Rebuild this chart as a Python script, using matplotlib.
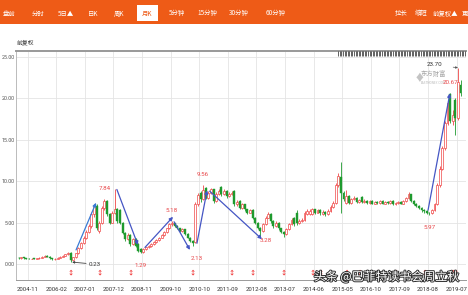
import matplotlib
matplotlib.use("Agg")
import matplotlib.pyplot as plt
import matplotlib.patheffects as pe
from matplotlib.patches import Rectangle
import numpy as np

plt.rcParams['font.family'] = ['Noto Sans CJK SC', 'DejaVu Sans']

# ---------------- data (monthly candles, 前复权) ----------------
opens = [0.75, 0.70, 0.80, 0.70, 0.65, 0.60, 0.66, 0.62, 0.70, 0.76,
         0.86, 1.00, 0.88, 0.70, 0.56, 0.62, 0.76, 0.86, 1.00, 1.16,
         1.36, 0.50, 0.82, 1.30, 1.90, 2.50, 3.20, 3.90, 4.60, 6.00,
         7.00, 4.00, 5.00, 6.80, 7.60, 6.00, 5.00, 6.20, 6.60, 6.50,
         5.00, 3.80, 3.00, 3.50, 2.40, 3.00, 2.40, 1.80, 1.40, 1.80,
         2.00, 2.20, 2.40, 2.65, 2.90, 3.20, 3.50, 3.90, 4.30, 4.80,
         4.95, 4.60, 4.30, 4.00, 4.20, 3.60, 3.20, 2.80, 2.60, 7.20,
         8.60, 7.80, 9.20, 8.00, 8.60, 9.00, 7.60, 8.50, 9.30, 8.40,
         8.80, 8.20, 8.50, 8.80, 7.20, 7.60, 6.80, 7.20, 6.60, 6.20,
         6.50, 5.60, 5.00, 4.40, 4.00, 4.80, 5.60, 6.00, 5.20, 4.60,
         5.00, 4.30, 3.90, 3.60, 4.20, 4.80, 5.60, 6.20, 4.90, 5.20,
         5.30, 6.00, 6.00, 6.00, 6.60, 6.20, 6.50, 6.00, 6.30, 6.00,
         6.40, 6.90, 7.40, 9.50, 10.50, 8.60, 7.40, 8.20, 7.40, 7.80,
         8.00, 7.50, 8.10, 7.50, 7.60, 7.40, 7.60, 7.30, 7.50, 7.40,
         7.60, 7.30, 7.50, 7.40, 7.60, 7.20, 7.40, 7.50, 7.30, 7.60,
         8.00, 8.40, 7.60, 7.30, 7.00, 6.80, 6.50, 6.40, 6.20, 6.10,
         6.50, 7.20, 9.50, 11.50, 14.00, 17.00, 20.50, 17.30, 19.80, 17.60,
         21.60]
closes = [0.70, 0.80, 0.70, 0.65, 0.60, 0.66, 0.62, 0.70, 0.76, 0.86,
          1.00, 0.88, 0.70, 0.56, 0.62, 0.76, 0.86, 1.00, 1.16, 1.36,
          0.50, 0.82, 1.30, 1.90, 2.50, 3.20, 3.90, 4.60, 6.00, 7.00,
          4.40, 5.00, 6.80, 7.60, 6.00, 5.00, 6.20, 6.60, 5.20, 5.00,
          3.80, 3.00, 3.50, 2.40, 3.00, 2.20, 1.60, 1.40, 1.80, 2.00,
          2.20, 2.40, 2.65, 2.90, 3.20, 3.50, 3.90, 4.30, 4.80, 4.95,
          4.60, 4.30, 4.00, 4.20, 3.60, 3.20, 2.80, 2.50, 7.20, 8.30,
          7.80, 8.90, 8.00, 8.60, 9.00, 7.60, 8.50, 8.80, 8.40, 8.80,
          8.20, 8.50, 8.60, 7.20, 7.50, 6.80, 7.20, 6.60, 6.20, 6.50,
          5.60, 5.00, 4.40, 4.00, 4.80, 5.60, 6.00, 5.20, 4.60, 5.00,
          4.30, 3.90, 3.60, 4.20, 4.80, 5.30, 4.80, 4.90, 5.20, 5.30,
          6.20, 6.40, 6.40, 6.60, 6.20, 6.50, 6.10, 6.30, 6.00, 6.40,
          6.90, 7.40, 9.50, 10.60, 8.60, 7.90, 8.20, 7.40, 7.80, 8.00,
          7.50, 7.70, 7.50, 7.60, 7.40, 7.60, 7.30, 7.50, 7.40, 7.60,
          7.30, 7.50, 7.40, 7.60, 7.20, 7.40, 7.50, 7.30, 7.60, 8.00,
          8.40, 7.60, 7.30, 7.00, 6.80, 6.50, 6.40, 6.20, 6.10, 6.50,
          7.20, 9.50, 11.50, 14.00, 17.00, 19.50, 17.30, 18.00, 17.60, 22.00,
          20.60]
highs = [0.85, 0.86, 0.84, 0.76, 0.70, 0.72, 0.70, 0.76, 0.82, 0.92,
         1.08, 1.06, 0.92, 0.74, 0.68, 0.82, 0.92, 1.06, 1.24, 1.45,
         1.45, 0.90, 1.38, 2.00, 2.62, 3.35, 4.05, 4.80, 6.30, 7.30,
         7.20, 5.20, 7.00, 7.84, 7.70, 6.20, 6.40, 9.00, 6.80, 6.70,
         5.10, 3.90, 3.70, 3.60, 3.20, 3.10, 2.50, 1.90, 1.90, 2.10,
         2.30, 2.50, 2.75, 3.00, 3.30, 3.65, 4.00, 4.40, 5.00, 5.18,
         5.00, 4.70, 4.40, 4.30, 4.25, 3.70, 3.30, 2.90, 7.50, 8.60,
         8.80, 9.56, 9.30, 8.80, 9.20, 9.10, 8.70, 9.00, 9.40, 9.00,
         8.90, 8.70, 8.80, 8.90, 7.70, 7.70, 7.40, 7.30, 6.70, 6.70,
         6.60, 5.70, 5.10, 4.50, 5.00, 5.80, 6.30, 6.10, 5.30, 5.20,
         5.10, 4.40, 4.00, 4.40, 5.00, 5.50, 5.70, 6.50, 5.40, 5.50,
         6.40, 6.60, 6.60, 6.80, 6.70, 6.70, 6.60, 6.50, 6.40, 6.60,
         7.10, 7.60, 9.80, 11.00, 12.30, 8.80, 8.90, 8.30, 8.00, 8.20,
         8.10, 7.90, 8.20, 7.80, 7.70, 7.70, 7.70, 7.60, 7.60, 7.70,
         7.70, 7.60, 7.60, 7.70, 7.70, 7.50, 7.60, 7.60, 7.70, 8.10,
         8.70, 8.50, 7.70, 7.40, 7.10, 6.90, 6.60, 6.50, 6.30, 6.70,
         7.40, 9.80, 11.80, 14.30, 17.30, 19.80, 20.67, 18.60, 20.00, 23.70,
         22.20]
lows = [0.62, 0.66, 0.64, 0.60, 0.55, 0.56, 0.57, 0.58, 0.66, 0.72,
        0.82, 0.82, 0.64, 0.50, 0.50, 0.58, 0.72, 0.80, 0.96, 1.10,
        0.23, 0.44, 0.78, 1.22, 1.80, 2.40, 3.05, 3.75, 4.40, 5.70,
        4.10, 3.80, 4.80, 6.50, 5.80, 4.80, 4.90, 6.00, 5.00, 4.80,
        3.60, 2.80, 2.90, 2.20, 2.30, 2.00, 1.45, 1.29, 1.35, 1.70,
        1.90, 2.10, 2.30, 2.55, 2.80, 3.10, 3.40, 3.80, 4.20, 4.60,
        4.50, 4.20, 3.90, 3.90, 3.50, 3.10, 2.70, 2.13, 2.50, 7.00,
        7.50, 7.70, 7.80, 7.90, 8.40, 7.40, 7.50, 8.30, 8.20, 8.30,
        8.00, 8.10, 8.30, 7.00, 7.00, 6.60, 6.70, 6.40, 6.00, 6.10,
        5.40, 4.80, 4.20, 3.28, 3.90, 4.70, 5.50, 5.00, 4.40, 4.50,
        4.10, 3.70, 3.30, 3.50, 4.10, 4.70, 4.60, 4.70, 4.80, 5.10,
        5.20, 5.90, 5.90, 5.90, 6.00, 6.10, 5.90, 5.90, 5.80, 5.90,
        6.30, 6.80, 7.30, 9.30, 6.10, 7.60, 7.30, 7.20, 7.30, 7.70,
        7.40, 7.40, 7.40, 7.40, 7.30, 7.30, 7.20, 7.20, 7.30, 7.30,
        7.20, 7.20, 7.30, 7.30, 7.10, 7.10, 7.30, 7.20, 7.20, 7.50,
        7.90, 7.50, 7.10, 6.90, 6.60, 6.30, 6.20, 6.00, 5.97, 6.00,
        6.40, 7.10, 9.30, 11.30, 13.80, 16.80, 17.00, 16.80, 15.60, 17.40,
        20.30]

date_labels = ["2004-11", "2006-02", "2007-01", "2007-12", "2008-11", "2009-10",
               "2010-10", "2011-09", "2012-08", "2013-07", "2014-06", "2015-05",
               "2016-10", "2017-09", "2018-08", "2019-07"]
y_ticks = [0, 5, 10, 15, 20, 25]

# marked extremes: (text, candle index, price, is_high)
extremes = [("0.23", 20, 0.23, False), ("7.84", 33, 7.84, True),
            ("1.29", 47, 1.29, False), ("5.18", 59, 5.18, True),
            ("2.13", 67, 2.13, False), ("9.56", 71, 9.56, True),
            ("3.28", 93, 3.28, False), ("5.97", 158, 5.97, False),
            ("20.67", 166, 20.67, True)]
# trend arrows: (x0, y0, x1, y1)
trend_arrows = [(22.1, 1.7, 29.8, 7.4), (37.8, 9.0, 45.9, 2.3),
                (48.6, 2.0, 59.4, 5.7), (59.8, 5.1, 65.9, 1.7),
                (68.6, 2.5, 72.5, 8.9), (73.5, 8.8, 93.6, 3.0),
                (157.5, 6.5, 165.9, 20.6)]
event_marks = [20, 31, 43, 67, 82, 90, 102, 113, 116, 126, 131, 138, 145, 156, 167, 168]

# ---------------- figure ----------------
W, H = 468, 295
fig = plt.figure(figsize=(W / 100, H / 100), dpi=100)
fig.patch.set_facecolor('white')

narrow = ['Liberation Sans Narrow', 'Roboto', 'DejaVu Sans']

# toolbar
orange = '#EE5B17'
fig.patches.append(Rectangle((0, 1 - 24 / H), 1, 24 / H, transform=fig.transFigure,
                             facecolor=orange, edgecolor='none'))
fig.patches.append(Rectangle((137 / W, 1 - 21 / H), 21 / W, 16 / H, transform=fig.transFigure,
                             facecolor='white', edgecolor='none'))
tool_items = [("盘前", 9), ("分时", 38), ("5日▲", 66), ("日K", 93), ("周K", 119),
              ("月K", 147), ("5分钟", 177), ("15分钟", 207), ("30分钟", 239), ("60分钟", 276),
              ("拉长", 401), ("缩短", 421), ("前复权▲", 445), ("更", 465)]
for t, x in tool_items:
    fig.text(x / W, 1 - 13.5 / H, t, color=orange if t == "月K" else 'white',
             fontsize=4.6, ha='center', va='center')

fig.text(17 / W, 1 - 43 / H, "前复权", fontsize=4.2, color='#333333', ha='left', va='center')

ax = fig.add_axes([16 / W, 1 - 280 / H, 450 / W, 229 / H])
x = np.arange(len(closes))
red = '#F04848'
green = '#1E9A2E'
o = np.array(opens); c = np.array(closes); hi = np.array(highs); lo = np.array(lows)
up = c >= o
cols = np.where(up, red, green)
ax.vlines(x, lo, hi, colors=cols, lw=0.6, zorder=2)
body_bot = np.minimum(o, c)
body_h = np.maximum(np.abs(c - o), 0.06)
ax.bar(x[up], body_h[up], bottom=body_bot[up], width=0.72, facecolor='white',
       edgecolor=red, linewidth=0.5, zorder=3)
ax.bar(x[~up], body_h[~up], bottom=body_bot[~up], width=0.72, facecolor=green,
       edgecolor=green, linewidth=0.3, zorder=3)

ax.set_xlim(-1, 172.1)
ax.set_ylim(-1.93, 25.72)

xt = [3.5 + 11 * k for k in range(len(date_labels))]
ax.set_xticks(xt)
ax.set_xticklabels(date_labels, fontsize=4.3, color='#333333', family=narrow)
ax.set_yticks(y_ticks)
ax.set_yticklabels([f"{v:.2f}" for v in y_ticks], fontsize=3.9, color='#555555', family=narrow)
ax.tick_params(axis='y', length=0, pad=1.2)
ax.tick_params(axis='x', length=0, pad=5)
ax.grid(True, color='#E4E4E4', lw=0.6, zorder=0)
ax.set_axisbelow(True)
ax.spines['right'].set_visible(False)
ax.spines['left'].set_color('#BBBBBB'); ax.spines['left'].set_linewidth(0.7)
ax.spines['bottom'].set_color('#999999'); ax.spines['bottom'].set_linewidth(0.7)
ax.spines['top'].set_color('#999999'); ax.spines['top'].set_linewidth(1.4)

# hatched strip at top right
hx = np.arange(123.0, 172.1, 0.6)
ax.vlines(hx, 25.08, 25.72, colors='#222222', lw=0.5, zorder=4)

# trend arrows
for i, (x0, y0, x1, y1) in enumerate(trend_arrows):
    colr = '#3A7BD5' if i == 0 else '#4556C4'
    ax.annotate('', xy=(x1, y1), xytext=(x0, y0),
                arrowprops=dict(arrowstyle='-|>', color=colr, lw=0.9, mutation_scale=5,
                                shrinkA=0, shrinkB=0), zorder=5)

# extreme labels
for t, i, v, is_high in extremes:
    if t == "0.23":
        ax.annotate(t, xy=(i + 0.6, v), xytext=(12, -1.5), textcoords='offset points',
                    fontsize=4.5, color='#333333', ha='left', va='center', family=narrow,
                    arrowprops=dict(arrowstyle='-|>', color='#444444', lw=0.6,
                                    mutation_scale=3, shrinkA=0, shrinkB=0))
        continue
    dx = {"2.13": 3, "3.28": 4}.get(t, 0)
    dy = 7.5 if is_high else -9
    if t == "3.28":
        dy = -2.5
    ax.annotate(t, xy=(i, v), xytext=(dx, dy), textcoords='offset points', family=narrow,
                fontsize=4.5, color='#E8474A', ha='center', va='center')

ax.annotate("23.70", xy=(169, 23.70), xytext=(-17, 2), textcoords='offset points',
            fontsize=4.5, color='#333333', ha='center', va='center', family=narrow,
            arrowprops=dict(arrowstyle='-|>', color='#555555', lw=0.5, mutation_scale=3,
                            shrinkA=6, shrinkB=0))

# logo watermark
ax.text(159.5, 22.9, "东方财富", fontsize=4.6, color='#A8A8A8', ha='center', va='center', zorder=1)
ax.text(159.5, 21.9, "EASTMONEY.COM", fontsize=2.2, color='#B8B8B8', ha='center', va='center', zorder=1)
ax.text(154.2, 22.5, "♦", fontsize=7, color='#C4C4C4', ha='center', va='center', zorder=1)

# event markers
for i in event_marks:
    ax.text(i, -0.9, "↕", fontsize=4.5, color='#F03A3A', ha='center', va='center',
            fontweight='bold')

# bottom-right watermark
fig.text(386 / W, 1 - 277 / H, "头条 @巴菲特读书会周立秋", fontsize=8.6, color='white',
         ha='center', va='center',
         path_effects=[pe.withStroke(linewidth=1.4, foreground='#333333')])

fig.savefig("out.png", dpi=100)
